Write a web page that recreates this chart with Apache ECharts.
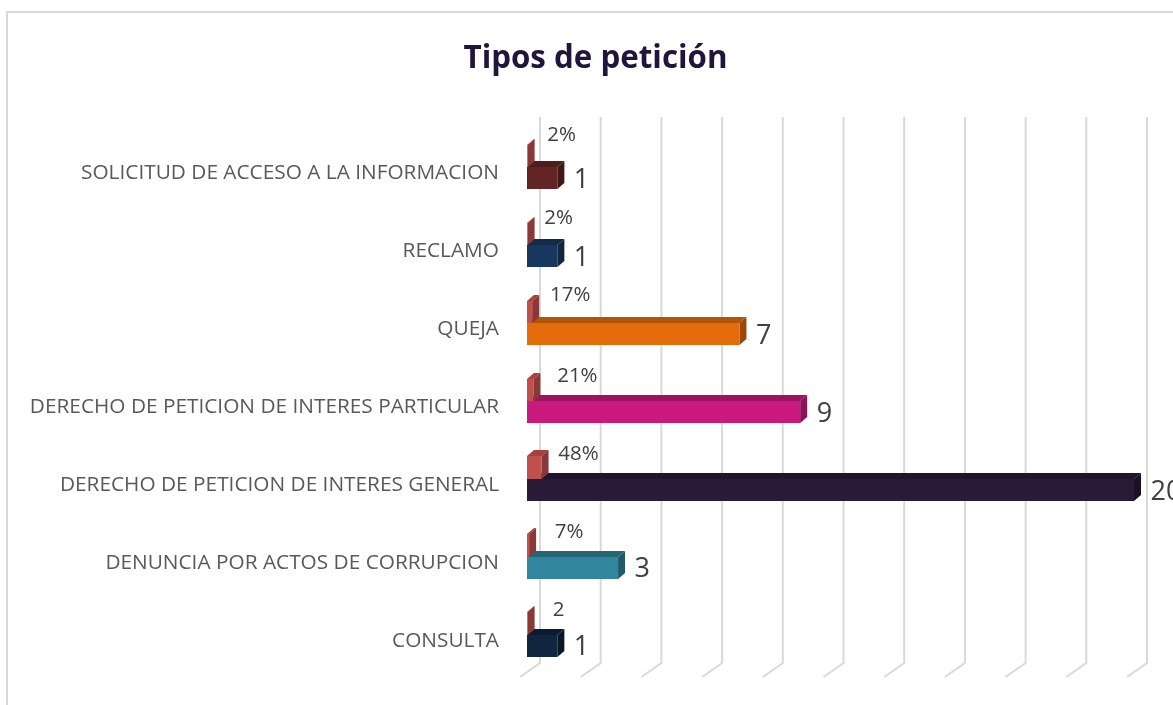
<!DOCTYPE html>
<html>
<head>
<meta charset="utf-8">
<style>html,body{margin:0;padding:0;background:#fff;overflow:hidden}#c{width:1173px;height:705px}</style>
<script src="https://cdn.jsdelivr.net/npm/echarts@6/dist/echarts.min.js"></script>
</head>
<body>
<div id="c"></div>
<script>
const categories = ["CONSULTA","DENUNCIA POR ACTOS DE CORRUPCION","DERECHO DE PETICION DE INTERES GENERAL","DERECHO DE PETICION DE INTERES PARTICULAR","QUEJA","RECLAMO","SOLICITUD DE ACCESO A LA INFORMACION"];
const counts = [1,3,20,9,7,1,1];
const shares = [0.02,0.07,0.48,0.21,0.17,0.02,0.02];
const shareLabels = ["2","7%","48%","21%","17%","2%","2%"];
const gridTicks = [0,2,4,6,8,10,12,14,16,18,20];

// styling tables, separate from the data
const faceColors = [
  ["#10253f","#0c1c30","#0a1726"],
  ["#31859c","#256676","#215a69"],
  ["#2a1a38","#20142c","#1b1125"],
  ["#c9197f","#9d1363","#8b1158"],
  ["#e46c0a","#b25508","#994906"],
  ["#17375e","#122b49","#0f2540"],
  ["#632523","#4e1d1c","#411817"]
];
const shareFaces = ["#c0504d","#a8403d","#8a3836"];
const shareNudge = [[31,-29],[40,-29],[37,-29],[44,-29],[38,-32],[31,-32],[34,-37]];
const DX = 7, DY = 6;

function box(x0,y0,x1,y1,c){
  y0 = Math.round(y0); y1 = Math.round(y1);
  return [
    {type:'polygon',shape:{points:[[x0,y0],[x0+DX,y0-DY],[x1+DX,y0-DY],[x1,y0]]},style:{fill:c[1]}},
    {type:'polygon',shape:{points:[[x1,y0],[x1+DX,y0-DY],[x1+DX,y1-DY],[x1,y1]]},style:{fill:c[2]}},
    {type:'rect',shape:{x:x0,y:y0,width:x1-x0,height:y1-y0},style:{fill:c[0]}}
  ];
}

const option = {
  animation:false,
  backgroundColor:'#fff',
  title:{text:'Tipos de petición',left:590.5,top:32,textAlign:'center',
    textStyle:{fontFamily:'Open Sans',fontWeight:'bold',fontSize:31.3,lineHeight:44,color:'#20153a'}},
  grid:{left:527,width:607,top:133,height:545,containLabel:false},
  graphic:[{type:'polyline',silent:true,z:0,shape:{points:[[7,705],[7,12],[1173,12]]},style:{fill:null,stroke:'#d9d9d9',lineWidth:2}}],
  xAxis:{type:'value',min:0,max:20,show:false},
  yAxis:{type:'category',data:categories,axisLine:{show:false},axisTick:{show:false},
    axisLabel:{margin:28,formatter:'{a|{value}}',interval:0,
      rich:{a:{padding:[3,0,0,0],fontFamily:'Open Sans',fontSize:20.8,color:'#595959'}}}},
  series:[
    {type:'custom',name:'grid',z:1,silent:true,data:gridTicks.map(v=>[v]),encode:{x:0},
      renderItem(p,api){
        const x=api.coord([api.value(0),0])[0], g=p.coordSys;
        const pts=[[x-7,g.y+g.height-1],[x+13,g.y+g.height-15],[x+13,g.y-16]];
        return {type:'polyline',shape:{points:pts},style:{fill:null,stroke:'#d9d9d9',lineWidth:2}};
      }},
    {type:'custom',name:'Cantidad',z:2,data:counts.map((v,i)=>[v,i]),encode:{x:0,y:1},
      renderItem(p,api){
        const i=api.value(1),e=api.coord([api.value(0),i]),o=api.coord([0,i]);
        const cy=e[1];
        const kids=box(o[0],cy-4.5,e[0],cy+17.5,faceColors[i]);
        kids.push({type:'text',style:{text:String(counts[i]),x:e[0]+16.5,y:cy+8.5,fill:'#404040',
          font:'27px "Open Sans"',textAlign:'left',textVerticalAlign:'middle'}});
        return {type:'group',children:kids};
      }},
    {type:'custom',name:'Porcentaje',z:3,data:shares.map((v,i)=>[v,i]),encode:{x:0,y:1},
      renderItem(p,api){
        const i=api.value(1),e=api.coord([api.value(0),i]),o=api.coord([0,i]);
        const cy=e[1],n=shareNudge[i];
        const kids=box(o[0],cy-27,e[0],cy-4.5,shareFaces);
        kids.push({type:'text',style:{text:shareLabels[i],x:e[0]+n[0],y:cy+n[1],fill:'#404040',
          font:'20.5px "Open Sans"',textAlign:'center',textVerticalAlign:'middle'}});
        return {type:'group',children:kids};
      }}
  ]
};
echarts.init(document.getElementById('c')).setOption(option);
</script>
</body>
</html>
